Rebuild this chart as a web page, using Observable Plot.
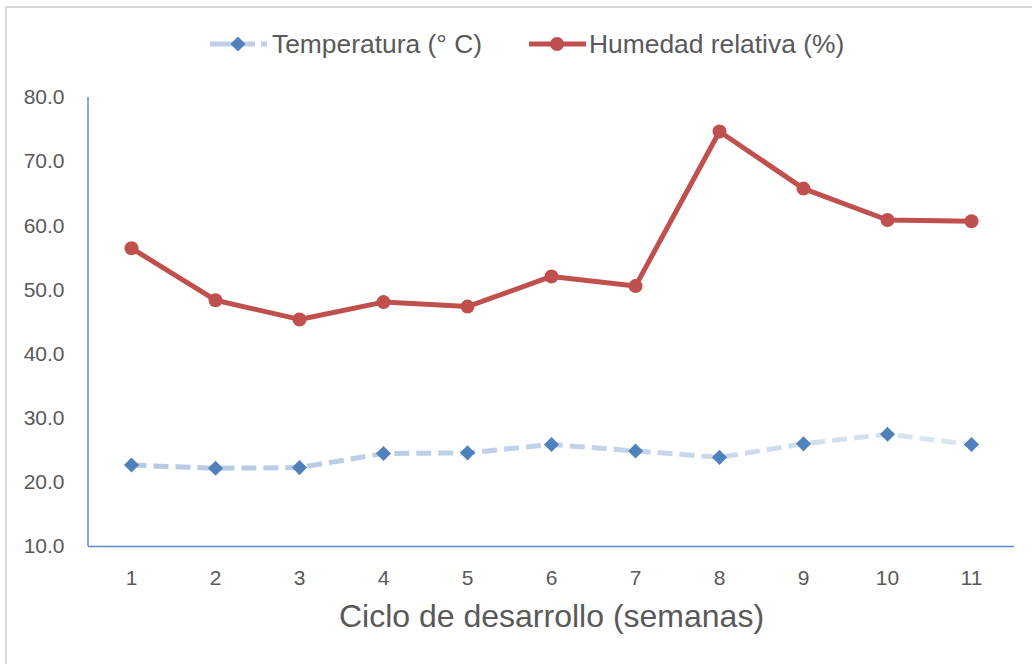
<!DOCTYPE html>
<html>
<head>
<meta charset="utf-8">
<script src="https://cdn.jsdelivr.net/npm/d3@7"></script>
<script src="https://cdn.jsdelivr.net/npm/@observablehq/plot@0.6"></script>
<style>
  html, body { margin: 0; padding: 0; background: white; overflow: hidden; }
  #wrap { position: relative; width: 1032px; height: 664px; font-family: "Liberation Sans", Arial, sans-serif; }
  #legend { position: relative; width: 1032px; height: 70px; }
  .lg-text { position: absolute; font-size: 26.4px; line-height: 26px; color: #595959; white-space: nowrap; }
  .lg-sw { position: absolute; }
  #border { position: absolute; left: 5px; top: 6px; width: 1100px; height: 700px; border: 2px solid #d9d9d9; box-sizing: border-box; pointer-events: none; z-index: 5; background: transparent; }
  #chart svg { display: block; }
</style>
</head>
<body>
<div id="wrap">
  <div id="border"></div>
  <div id="legend"></div>
  <div id="chart"></div>
</div>
<script>
// ---- Data ----
const semanas = [1, 2, 3, 4, 5, 6, 7, 8, 9, 10, 11];
const temperatura = [22.7, 22.2, 22.3, 24.5, 24.6, 25.9, 24.9, 23.9, 26.0, 27.5, 25.9];
const humedad = [56.5, 48.4, 45.4, 48.1, 47.4, 52.1, 50.6, 74.7, 65.8, 60.9, 60.7];
const yTicks = [10, 20, 30, 40, 50, 60, 70, 80];
const seriesNames = ["Temperatura (° C)", "Humedad relativa (%)"];
const xTitle = "Ciclo de desarrollo (semanas)";

const tempData = semanas.map((s, i) => ({semana: s, valor: temperatura[i]}));
const humData = semanas.map((s, i) => ({semana: s, valor: humedad[i]}));

const blue = "#4f81bd";
const red = "#c0504d";
const axisBlue = "#5b8bc9";
const textGray = "#595959";

// ---- Legend (HTML + small swatches) ----
const legend = document.getElementById("legend");
function addSwatch(left, kind) {
  const ns = "http://www.w3.org/2000/svg";
  const s = document.createElementNS(ns, "svg");
  s.setAttribute("width", 58); s.setAttribute("height", 20);
  s.setAttribute("class", "lg-sw");
  s.style.left = left + "px"; s.style.top = "34px";
  const ln = document.createElementNS(ns, "line");
  ln.setAttribute("x1", 0); ln.setAttribute("x2", 57);
  ln.setAttribute("y1", 10); ln.setAttribute("y2", 10);
  ln.setAttribute("stroke-width", 5);
  if (kind === "temp") {
    ln.setAttribute("stroke", "#bfd0e8");
    ln.setAttribute("stroke-dasharray", "45,6");
    s.appendChild(ln);
    const d = document.createElementNS(ns, "path");
    d.setAttribute("d", d3.symbol(d3.symbolDiamond2, Math.PI * 6.8 * 6.8)());
    d.setAttribute("transform", "translate(28,10)");
    d.setAttribute("fill", blue);
    s.appendChild(d);
  } else {
    ln.setAttribute("stroke", red);
    s.appendChild(ln);
    const c = document.createElementNS(ns, "circle");
    c.setAttribute("cx", 28); c.setAttribute("cy", 10); c.setAttribute("r", 7);
    c.setAttribute("fill", red);
    s.appendChild(c);
  }
  legend.appendChild(s);
}
function addText(left, txt) {
  const t = document.createElement("div");
  t.className = "lg-text";
  t.style.left = left + "px"; t.style.top = "31px";
  t.textContent = txt;
  legend.appendChild(t);
}
addSwatch(210, "temp"); addText(272, seriesNames[0]);
addSwatch(529, "hum"); addText(589, seriesNames[1]);

// ---- Chart ----
const leftAxisLine = (index, scales, values, dims) => {
  const ns = "http://www.w3.org/2000/svg";
  const l = document.createElementNS(ns, "line");
  l.setAttribute("x1", dims.marginLeft); l.setAttribute("x2", dims.marginLeft);
  l.setAttribute("y1", dims.marginTop); l.setAttribute("y2", dims.height - dims.marginBottom);
  l.setAttribute("stroke", axisBlue); l.setAttribute("stroke-width", 1.5);
  return l;
};

const chart = Plot.plot({
  width: 1032,
  height: 594,
  marginTop: 27,
  marginBottom: 118,
  marginLeft: 88,
  marginRight: 18,
  x: {type: "point", domain: semanas, padding: 0.5},
  y: {domain: [10, 80]},
  style: {fontFamily: "'Liberation Sans', Arial, sans-serif", fontSize: "21px", color: textGray, background: "transparent"},
  marks: [
    Plot.axisY({ticks: yTicks, tickSize: 0, tickPadding: 24, tickFormat: d => d.toFixed(1), fill: textGray, fontSize: 21, label: null}),
    Plot.axisX({tickSize: 0, tickPadding: 24, fill: textGray, fontSize: 21, label: null}),
    Plot.ruleY([10], {stroke: axisBlue, strokeWidth: 1.5}),
    leftAxisLine,
    Plot.line(tempData, {x: "semana", y: "valor", stroke: "url(#tempGrad)", strokeWidth: 5, strokeDasharray: "15,7", strokeLinecap: "butt", strokeLinejoin: "miter"}),
    Plot.dot(tempData, {x: "semana", y: "valor", symbol: "diamond2", r: 6.8, fill: blue, stroke: "none"}),
    Plot.line(humData, {x: "semana", y: "valor", stroke: red, strokeWidth: 5}),
    Plot.dot(humData, {x: "semana", y: "valor", r: 7, fill: red, stroke: "none"}),
    Plot.text([xTitle], {text: d => d, frameAnchor: "bottom", dy: 80, fontSize: 32, fill: textGray})
  ]
});

// gradient for the dashed temperature line
const ns = "http://www.w3.org/2000/svg";
const defs = document.createElementNS(ns, "defs");
const grad = document.createElementNS(ns, "linearGradient");
grad.setAttribute("id", "tempGrad");
grad.setAttribute("x1", "0"); grad.setAttribute("x2", "1");
grad.setAttribute("y1", "0"); grad.setAttribute("y2", "0");
[["0", "#b5c9e4"], ["0.6", "#c3d4ea"], ["1", "#dde7f3"]].forEach(([o, c]) => {
  const st = document.createElementNS(ns, "stop");
  st.setAttribute("offset", o); st.setAttribute("stop-color", c);
  grad.appendChild(st);
});
defs.appendChild(grad);
chart.insertBefore(defs, chart.firstChild);

document.getElementById("chart").appendChild(chart);
</script>
</body>
</html>
